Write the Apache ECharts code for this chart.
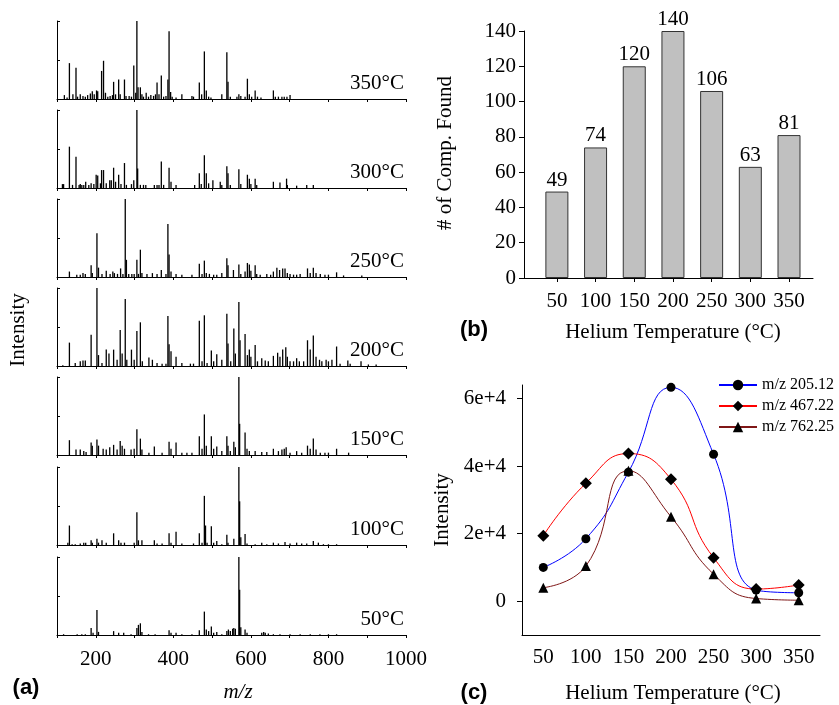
<!DOCTYPE html>
<html>
<head>
<meta charset="utf-8">
<script src="https://cdn.jsdelivr.net/npm/echarts@6/dist/echarts.min.js"></script>
<style>html,body{margin:0;padding:0;background:#fff}#c{width:839px;height:705px}</style>
</head>
<body>
<div id="c"></div>
<script>
// ---------- DATA ----------
// Panel (a): mass spectra, [m/z, relative intensity %]
const spec350 = [[119,5],[126,2],[132,46],[141,6],[149,40],[153,3],[160,6],[167,4],[173,3],[179,5],[186,7],[191,10],[196,6],[202,11],[205,10],[215,36],[220,49],[225,8],[231,3],[237,4],[243,5],[246,22],[251,6],[259,25],[263,6],[274,25],[278,4],[286,4],[292,3],[298,43],[303,8],[306,100],[309,15],[315,15],[319,6],[323,3],[330,8],[336,3],[342,5],[349,4],[354,6],[358,21],[363,6],[369,30],[375,3],[381,4],[386,25],[389,87],[393,9],[397,3],[407,2],[422,6],[448,4],[452,3],[467,21],[473,6],[480,61],[485,11],[491,3],[497,2],[525,6],[538,60],[541,22],[547,3],[564,3],[569,6],[574,4],[585,3],[591,26],[596,6],[602,3],[611,11],[617,3],[626,2],[658,11],[663,3],[671,3],[680,3],[686,3],[693,3],[701,5]];
const spec300 = [[114,5],[117,5],[132,53],[140,4],[149,40],[157,4],[160,5],[164,4],[169,4],[174,8],[182,4],[188,6],[195,5],[201,17],[205,16],[212,6],[215,23],[220,23],[227,6],[236,10],[240,10],[246,26],[251,8],[259,17],[265,5],[274,32],[279,4],[292,5],[298,10],[306,100],[308,25],[315,4],[323,4],[329,4],[351,4],[358,4],[363,4],[369,34],[375,4],[389,26],[394,8],[407,4],[455,4],[467,19],[472,5],[480,42],[485,19],[491,6],[502,10],[521,8],[525,4],[538,28],[541,19],[547,4],[569,24],[574,5],[591,17],[596,12],[600,5],[611,12],[615,4],[658,8],[675,7],[692,12],[694,4],[718,3],[744,4],[761,4]];
const spec250 = [[132,7],[151,3],[160,3],[167,5],[173,4],[188,15],[191,5],[203,56],[207,12],[216,4],[227,8],[237,4],[244,7],[248,5],[256,4],[264,11],[270,4],[276,100],[279,22],[285,4],[293,4],[299,4],[306,22],[310,4],[315,35],[319,5],[332,4],[346,5],[358,4],[369,9],[381,4],[386,68],[389,29],[394,7],[407,4],[422,3],[448,3],[467,17],[474,4],[480,21],[485,5],[493,4],[504,3],[512,3],[525,5],[538,24],[541,15],[555,9],[569,16],[574,4],[585,7],[591,18],[596,16],[600,8],[611,15],[615,4],[624,3],[641,4],[651,3],[658,7],[667,12],[674,9],[682,11],[688,11],[694,5],[701,4],[710,3],[718,3],[727,4],[746,11],[753,5],[761,12],[768,5],[779,4],[791,3],[800,3],[821,6],[839,2],[886,2]];
const spec200 = [[115,1],[132,30],[147,4],[160,6],[167,7],[173,7],[188,40],[203,100],[207,14],[216,4],[227,21],[234,16],[246,21],[255,8],[263,46],[268,16],[276,86],[280,8],[292,21],[299,8],[306,45],[315,56],[320,6],[337,11],[346,8],[358,4],[371,3],[381,3],[386,64],[389,28],[394,19],[407,12],[422,4],[444,3],[452,3],[467,58],[474,6],[480,65],[487,4],[498,20],[504,6],[512,15],[525,8],[538,67],[541,29],[548,6],[556,48],[560,16],[569,82],[572,33],[585,41],[591,14],[596,21],[600,12],[611,27],[617,6],[628,10],[637,7],[645,6],[658,13],[669,17],[675,12],[682,21],[690,24],[694,12],[701,6],[710,6],[718,10],[725,6],[736,6],[746,33],[753,21],[761,39],[768,12],[777,8],[783,6],[794,8],[800,6],[809,8],[821,25],[830,3],[850,7],[856,3],[884,6],[903,2],[923,2]];
const spec150 = [[132,19],[149,7],[160,7],[169,5],[175,4],[188,16],[191,12],[203,20],[207,12],[219,8],[227,7],[236,10],[246,13],[255,7],[263,18],[268,12],[274,8],[291,7],[299,8],[306,33],[315,21],[319,7],[337,3],[351,11],[371,3],[389,17],[394,8],[407,16],[422,3],[435,3],[448,3],[467,24],[474,8],[480,52],[485,12],[498,24],[504,8],[512,11],[525,5],[538,24],[541,12],[547,5],[556,17],[560,10],[569,100],[571,40],[585,29],[590,8],[596,5],[611,5],[628,4],[641,4],[658,8],[671,5],[680,7],[686,8],[691,10],[701,3],[718,5],[731,3],[746,12],[753,8],[761,21],[768,7],[779,3],[791,3],[800,3],[821,8],[852,3]];
const spec100 = [[128,3],[132,25],[139,1],[147,1],[160,2],[169,3],[174,3],[188,6],[191,3],[203,8],[207,3],[216,6],[227,3],[246,15],[259,6],[265,3],[274,3],[299,3],[306,42],[310,6],[319,6],[351,6],[358,2],[371,2],[389,15],[394,3],[407,17],[422,2],[452,2],[467,15],[474,3],[480,63],[483,25],[487,3],[498,24],[504,3],[512,5],[525,1],[538,13],[541,3],[556,8],[569,100],[571,56],[574,10],[585,14],[590,2],[611,1],[628,3],[641,1],[658,3],[671,2],[688,4],[701,2],[718,3],[731,2],[744,2],[761,5],[774,3],[787,1],[800,1],[821,1]];
const spec50 = [[117,1],[152,1],[164,1],[173,1],[188,9],[193,3],[203,32],[207,4],[246,5],[259,3],[272,3],[291,1],[306,9],[310,13],[315,15],[319,4],[336,1],[353,1],[389,6],[394,3],[407,3],[422,1],[448,1],[467,6],[480,30],[485,7],[491,5],[498,11],[504,3],[512,4],[525,1],[538,5],[542,7],[547,5],[553,8],[556,9],[560,8],[569,100],[571,58],[574,10],[585,7],[590,3],[628,3],[633,4],[637,3],[645,2],[658,1],[675,1],[701,1],[727,1],[753,1],[778,1],[800,1],[821,1]];
const spectraLabels = ['350°C','300°C','250°C','200°C','150°C','100°C','50°C'];
const mzTickLabels = [200,400,600,800,1000];

// Panel (b)
const temps = [50,100,150,200,250,300,350];
const compCounts = [49,74,120,140,106,63,81];

// Panel (c)
const mz205 = [10000,18500,38200,63300,43500,3300,2500];
const mz467 = [19400,34900,43700,36100,12900,3600,4800];
const mz762 = [4000,10400,38600,25000,8000,800,300];
const intensityTicks = [0,20000,40000,60000];
const seriesNames = ['m/z 205.12','m/z 467.22','m/z 762.25'];

// ---------- CHART ----------
const SERIF = 'Liberation Serif';
const spectra = [spec350,spec300,spec250,spec200,spec150,spec100,spec50];
const specTops = [21,110,199,288,377,467,557];
const specH = 78;

const grid = [], xAxis = [], yAxis = [], series = [], graphic = [];
spectra.forEach((sp, i) => {
  const last = i === spectra.length - 1;
  grid.push({left:57, top:specTops[i], width:349, height:specH});
  xAxis.push({
    type:'value', gridIndex:i, min:100, max:1000, interval:100,
    axisLine:{show:true, onZero:false, lineStyle:{color:'#000', width:1}},
    axisTick:{show:true, length:3, lineStyle:{color:'#000'}},
    splitLine:{show:false},
    axisLabel:{show:last, margin:14, color:'#000', fontFamily:SERIF, fontSize:21,
      formatter: v => mzTickLabels.indexOf(v) >= 0 ? String(v) : ''}
  });
  yAxis.push({
    type:'value', gridIndex:i, min:0, max:100, interval:50,
    axisLine:{show:true, lineStyle:{color:'#000', width:1}},
    axisTick:{show:true, inside:true, length:3, lineStyle:{color:'#000'}},
    axisLabel:{show:false}, splitLine:{show:false}
  });
  series.push({
    type:'bar', xAxisIndex:i, yAxisIndex:i, barWidth:1.3, silent:true,
    itemStyle:{color:'#000'}, data: sp
  });
  graphic.push({type:'text', x:404, y:specTops[i]+specH-16,
    style:{text:spectraLabels[i], font:'21px "Liberation Serif"', fill:'#000',
      textAlign:'right', align:'right', textVerticalAlign:'middle', verticalAlign:'middle'}});
});

// panel (b)
grid.push({left:524, top:31, width:289, height:247});
xAxis.push({
  type:'value', gridIndex:7, min:7.5, max:381,
  axisLine:{show:true, onZero:false, lineStyle:{color:'#000'}},
  axisTick:{show:true, length:4, customValues:temps, lineStyle:{color:'#000'}},
  axisLabel:{customValues:temps, margin:13, color:'#000', fontFamily:SERIF, fontSize:21},
  splitLine:{show:false}
});
yAxis.push({
  type:'value', gridIndex:7, min:0, max:140, interval:20,
  axisLine:{show:true, lineStyle:{color:'#000'}},
  axisTick:{show:true, length:5, lineStyle:{color:'#000'}},
  axisLabel:{margin:8, color:'#000', fontFamily:SERIF, fontSize:21},
  splitLine:{show:false}
});
series.push({
  type:'bar', xAxisIndex:7, yAxisIndex:7, barWidth:23,
  itemStyle:{color:'#c0c0c0', borderColor:'#333', borderWidth:1},
  label:{show:true, position:'top', distance:1, color:'#000', fontFamily:SERIF, fontSize:21,
    formatter: p => p.value[1]},
  data: temps.map((t,i) => [t, compCounts[i]])
});

// panel (c)
grid.push({left:522, top:385, width:298, height:250});
xAxis.push({
  type:'value', gridIndex:8, min:25, max:375,
  axisLine:{show:true, onZero:false, lineStyle:{color:'#000'}},
  axisTick:{show:false, customValues:temps},
  axisLabel:{customValues:temps, margin:12, color:'#000', fontFamily:SERIF, fontSize:21},
  splitLine:{show:false}
});
yAxis.push({
  type:'value', gridIndex:8, min:-10000, max:64000,
  axisLine:{show:true, onZero:false, lineStyle:{color:'#000'}},
  axisTick:{show:true, length:5, customValues:intensityTicks, lineStyle:{color:'#000'}},
  axisLabel:{customValues:intensityTicks, margin:16, color:'#000', fontFamily:SERIF, fontSize:21,
    formatter: v => v === 0 ? '0' : (v/10000) + 'e+4'},
  splitLine:{show:false}
});
const lineDefs = [
  {name:seriesNames[0], data:mz205, color:'#0000ff', symbol:'circle', size:9},
  {name:seriesNames[1], data:mz467, color:'#ff0000', symbol:'diamond', size:12},
  {name:seriesNames[2], data:mz762, color:'#7f1717', symbol:'triangle', size:10}
];
lineDefs.forEach(d => {
  series.push({
    type:'line', name:d.name, xAxisIndex:8, yAxisIndex:8, smooth:0.5,
    symbol:d.symbol, symbolSize:d.size, showAllSymbol:true,
    itemStyle:{color:'#000'}, lineStyle:{color:d.color, width:1},
    data: temps.map((t,i) => [t, d.data[i]])
  });
});

// text labels
const txt = (text, x, y, font, rot) => ({type:'text', x, y, rotation: rot || 0,
  style:{text, font, fill:'#000', textAlign:'center', align:'center', textVerticalAlign:'middle', verticalAlign:'middle'}});
graphic.push(txt('Intensity', 18, 330, '21px "Liberation Serif"', Math.PI/2));
graphic.push(txt('m/z', 238, 692, 'italic 21px "Liberation Serif"'));
graphic.push(txt('(a)', 26, 688, 'bold 22px "Liberation Sans"'));
graphic.push(txt('# of Comp. Found', 445, 153, '21px "Liberation Serif"', Math.PI/2));
graphic.push(txt('Helium Temperature (°C)', 673, 332, '21px "Liberation Serif"'));
graphic.push(txt('(b)', 474, 330, 'bold 22px "Liberation Sans"'));
graphic.push(txt('Intensity', 442, 510, '21px "Liberation Serif"', Math.PI/2));
graphic.push(txt('Helium Temperature (°C)', 673, 693, '21px "Liberation Serif"'));
graphic.push(txt('(c)', 474, 693, 'bold 22px "Liberation Sans"'));

const chart = echarts.init(document.getElementById('c'), null, {renderer:'canvas'});
chart.setOption({
  animation:false,
  backgroundColor:'#fff',
  grid, xAxis, yAxis, series, graphic,
  legend:{
    data:seriesNames, orient:'vertical', left:718, top:377,
    itemWidth:38, itemHeight:13, itemGap:5, padding:[0,0,0,0],
    textStyle:{fontFamily:SERIF, fontSize:16, color:'#000', lineHeight:16}
  }
});
</script>
</body>
</html>
